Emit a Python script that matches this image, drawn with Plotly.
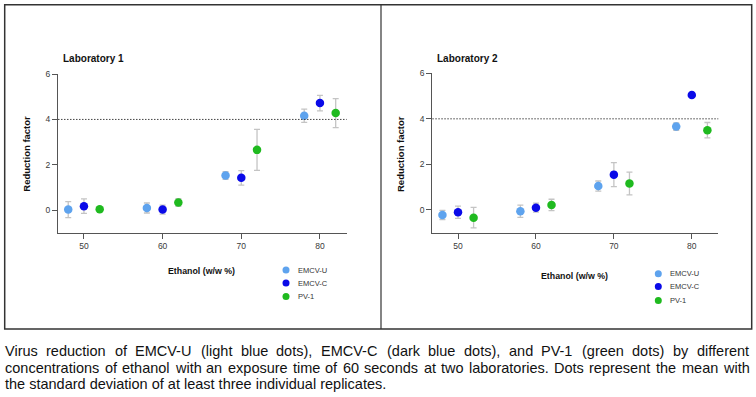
import plotly.graph_objects as go

# ---------------- data ----------------
CONC = [50, 60, 70, 80]
VIRUSES = ["EMCV-U", "EMCV-C", "PV-1"]

LAB1_EMCVU = [0.03, 0.10, 1.53, 4.16]
LAB1_EMCVU_SD = [0.35, 0.22, 0.17, 0.29]
LAB1_EMCVC = [0.18, 0.03, 1.43, 4.72]
LAB1_EMCVC_SD = [0.32, 0.20, 0.32, 0.34]
LAB1_PV1 = [0.05, 0.34, 2.66, 4.28]
LAB1_PV1_SD = [0.05, 0.17, 0.90, 0.64]

LAB2_EMCVU = [-0.22, -0.06, 1.05, 3.66]
LAB2_EMCVU_SD = [0.20, 0.27, 0.22, 0.16]
LAB2_EMCVC = [-0.10, 0.10, 1.55, 5.05]
LAB2_EMCVC_SD = [0.27, 0.20, 0.53, 0.05]
LAB2_PV1 = [-0.34, 0.22, 1.16, 3.50]
LAB2_PV1_SD = [0.45, 0.25, 0.50, 0.34]

THRESHOLD = 4
X_TICKS = [50, 60, 70, 80]
Y_TICKS = [0, 2, 4, 6]
PANEL_TITLES = ["Laboratory 1", "Laboratory 2"]
X_TITLE = "Ethanol (w/w %)"
Y_TITLE = "Reduction factor"
CAPTION = [
    "Virus reduction of EMCV-U (light blue dots), EMCV-C (dark blue dots), and PV-1 (green dots) by different",
    "concentrations of ethanol with an exposure time of 60 seconds at two laboratories. Dots represent the mean with",
    "the standard deviation of at least three individual replicates.",
]

# ---------------- style ----------------
W, H = 756, 397
COLORS = {"EMCV-U": "#5ea3ee", "EMCV-C": "#0a0ae8", "PV-1": "#1fba1f"}
DODGE = {"EMCV-U": -2, "EMCV-C": 0, "PV-1": 2}
ERR_COLOR = "#c4c4c4"
AXIS_COLOR = "#555555"
FONT = "Liberation Sans, Arial, sans-serif"


def px_x(p):
    return p / W


def px_y(p):
    return 1 - p / H


fig = go.Figure()

labs = [
    (LAB1_EMCVU, LAB1_EMCVU_SD, LAB1_EMCVC, LAB1_EMCVC_SD, LAB1_PV1, LAB1_PV1_SD),
    (LAB2_EMCVU, LAB2_EMCVU_SD, LAB2_EMCVC, LAB2_EMCVC_SD, LAB2_PV1, LAB2_PV1_SD),
]

for li, lab in enumerate(labs):
    xa = "x" if li == 0 else "x2"
    ya = "y" if li == 0 else "y2"
    series = {
        "EMCV-U": (lab[0], lab[1]),
        "EMCV-C": (lab[2], lab[3]),
        "PV-1": (lab[4], lab[5]),
    }
    for v in VIRUSES:
        vals, sd = series[v]
        fig.add_trace(go.Scatter(
            x=[c + DODGE[v] for c in CONC], y=vals,
            mode="markers", name=v, showlegend=False,
            xaxis=xa, yaxis=ya,
            marker=dict(color=COLORS[v], size=8.5, line=dict(width=0)),
            error_y=dict(type="data", array=sd, visible=True,
                         color=ERR_COLOR, thickness=1.3, width=3),
        ))

# axes geometry (pixels)
domains = [
    dict(x=(58, 346.7), y=(74, 233)),
    dict(x=(432.3, 718.3), y=(73.3, 232.7)),
]

axis_common = dict(
    showline=True, linecolor=AXIS_COLOR, linewidth=1,
    ticks="outside", ticklen=5, tickcolor=AXIS_COLOR, tickwidth=1,
    showgrid=False, zeroline=False, automargin=False,
    tickfont=dict(family=FONT, size=8.5, color="#3a3a3a"),
)

layout_axes = {}
for i, d in enumerate(domains):
    sx = "" if i == 0 else "2"
    layout_axes["xaxis" + sx] = dict(
        axis_common, domain=[px_x(d["x"][0]), px_x(d["x"][1])],
        range=[46.7, 83.4], tickvals=X_TICKS, anchor="y" + sx,
    )
    layout_axes["yaxis" + sx] = dict(
        axis_common, domain=[px_y(d["y"][1]), px_y(d["y"][0])],
        range=[-1, 6], tickvals=Y_TICKS, anchor="x" + sx,
    )

shapes = []
annotations = []

# threshold dotted lines
for i in range(2):
    sx = "" if i == 0 else "2"
    shapes.append(dict(type="line", xref=("x" + sx + " domain"), yref="y" + sx,
                       x0=0, x1=1, y0=THRESHOLD, y1=THRESHOLD,
                       line=dict(color="#444444", width=1, dash="1.5px,1.5px")))

# panel borders
shapes.append(dict(type="rect", xref="paper", yref="paper",
                   x0=px_x(4.7), x1=px_x(751.7), y0=px_y(329), y1=px_y(4.7),
                   line=dict(color="#333333", width=1.5)))
shapes.append(dict(type="line", xref="paper", yref="paper",
                   x0=px_x(381), x1=px_x(381), y0=px_y(329), y1=px_y(4.7),
                   line=dict(color="#333333", width=1.2)))

# panel titles, axis titles
panel_pos = [
    dict(title=(62.7, 59), ytitle=(26.7, 154), xtitle=(201, 271),
         legend=(286, [270, 283, 296.5])),
    dict(title=(436.7, 59), ytitle=(401, 154), xtitle=(574.7, 275.7),
         legend=(658.3, [273.7, 286.5, 300.5])),
]
for i, p in enumerate(panel_pos):
    annotations.append(dict(
        text=PANEL_TITLES[i], xref="paper", yref="paper",
        x=px_x(p["title"][0]), y=px_y(p["title"][1]),
        xanchor="left", yanchor="middle", showarrow=False,
        borderpad=0, borderwidth=0,
        font=dict(family=FONT, size=10, color="#111111", weight="bold")))
    annotations.append(dict(
        text=Y_TITLE, xref="paper", yref="paper",
        x=px_x(p["ytitle"][0]), y=px_y(p["ytitle"][1]),
        xanchor="center", yanchor="middle", showarrow=False, textangle=-90,
        borderpad=0, borderwidth=0,
        font=dict(family=FONT, size=9.5, color="#111111", weight="bold")))
    annotations.append(dict(
        text=X_TITLE, xref="paper", yref="paper",
        x=px_x(p["xtitle"][0]), y=px_y(p["xtitle"][1]),
        xanchor="center", yanchor="middle", showarrow=False,
        borderpad=0, borderwidth=0,
        font=dict(family=FONT, size=8.8, color="#111111", weight="bold")))
    lx, lys = p["legend"]
    for v, ly in zip(VIRUSES, lys):
        r = 3.5
        shapes.append(dict(type="circle", xref="paper", yref="paper",
                           x0=px_x(lx - r), x1=px_x(lx + r),
                           y0=px_y(ly + r), y1=px_y(ly - r),
                           fillcolor=COLORS[v], line=dict(width=0)))
        annotations.append(dict(
            text=v, xref="paper", yref="paper",
            x=px_x(lx + 11.5), y=px_y(ly),
            xanchor="left", yanchor="middle", showarrow=False,
            borderpad=0, borderwidth=0,
            font=dict(family=FONT, size=7.5, color="#333333")))

# caption: justified text (Arial metrics)
AW = dict(zip("abcdefghijklmnopqrstuvwxyz",
              [556, 556, 500, 556, 556, 278, 556, 556, 222, 222, 500, 222, 833,
               556, 556, 556, 556, 333, 500, 278, 556, 500, 722, 500, 500, 500]))
AW.update(dict(zip("ABCDEFGHIJKLMNOPQRSTUVWXYZ",
                   [667, 667, 722, 722, 667, 611, 778, 722, 278, 500, 667, 556, 833,
                    722, 778, 667, 778, 722, 667, 611, 722, 667, 944, 667, 667, 611])))
AW.update({c: 556 for c in "0123456789"})
AW.update({" ": 278, ".": 278, ",": 278, "-": 333, "(": 333, ")": 333, "%": 889, "/": 278})

CAP_SIZE = 14.5
CAP_LEFT, CAP_RIGHT = 5, 749
CAP_Y = [351, 367.5, 384]


def tw(s):
    return sum(AW.get(c, 556) for c in s) * CAP_SIZE / 1000


for li, line in enumerate(CAPTION):
    cap_font = dict(family=FONT, size=CAP_SIZE, color="#111111")
    if li == len(CAPTION) - 1:
        annotations.append(dict(
            text=line, xref="paper", yref="paper",
            x=px_x(CAP_LEFT), y=px_y(CAP_Y[li]), xanchor="left", yanchor="middle",
            showarrow=False, borderpad=0, borderwidth=0, font=cap_font))
        continue
    words = line.split(" ")
    total = sum(tw(w) for w in words)
    gap = (CAP_RIGHT - CAP_LEFT - total) / (len(words) - 1)
    xpos = CAP_LEFT
    for w in words:
        annotations.append(dict(
            text=w, xref="paper", yref="paper",
            x=px_x(xpos), y=px_y(CAP_Y[li]), xanchor="left", yanchor="middle",
            showarrow=False, borderpad=0, borderwidth=0, font=cap_font))
        xpos += tw(w) + gap

fig.update_layout(
    template="none",
    width=W, height=H,
    margin=dict(l=0, r=0, t=0, b=0, pad=0),
    paper_bgcolor="white", plot_bgcolor="white",
    showlegend=False,
    shapes=shapes, annotations=annotations,
    font=dict(family=FONT),
    **layout_axes,
)

fig.write_html(
    "out.html",
    config={"displayModeBar": False},
    post_script="document.body.style.margin='0';document.body.style.overflow='hidden';",
)
